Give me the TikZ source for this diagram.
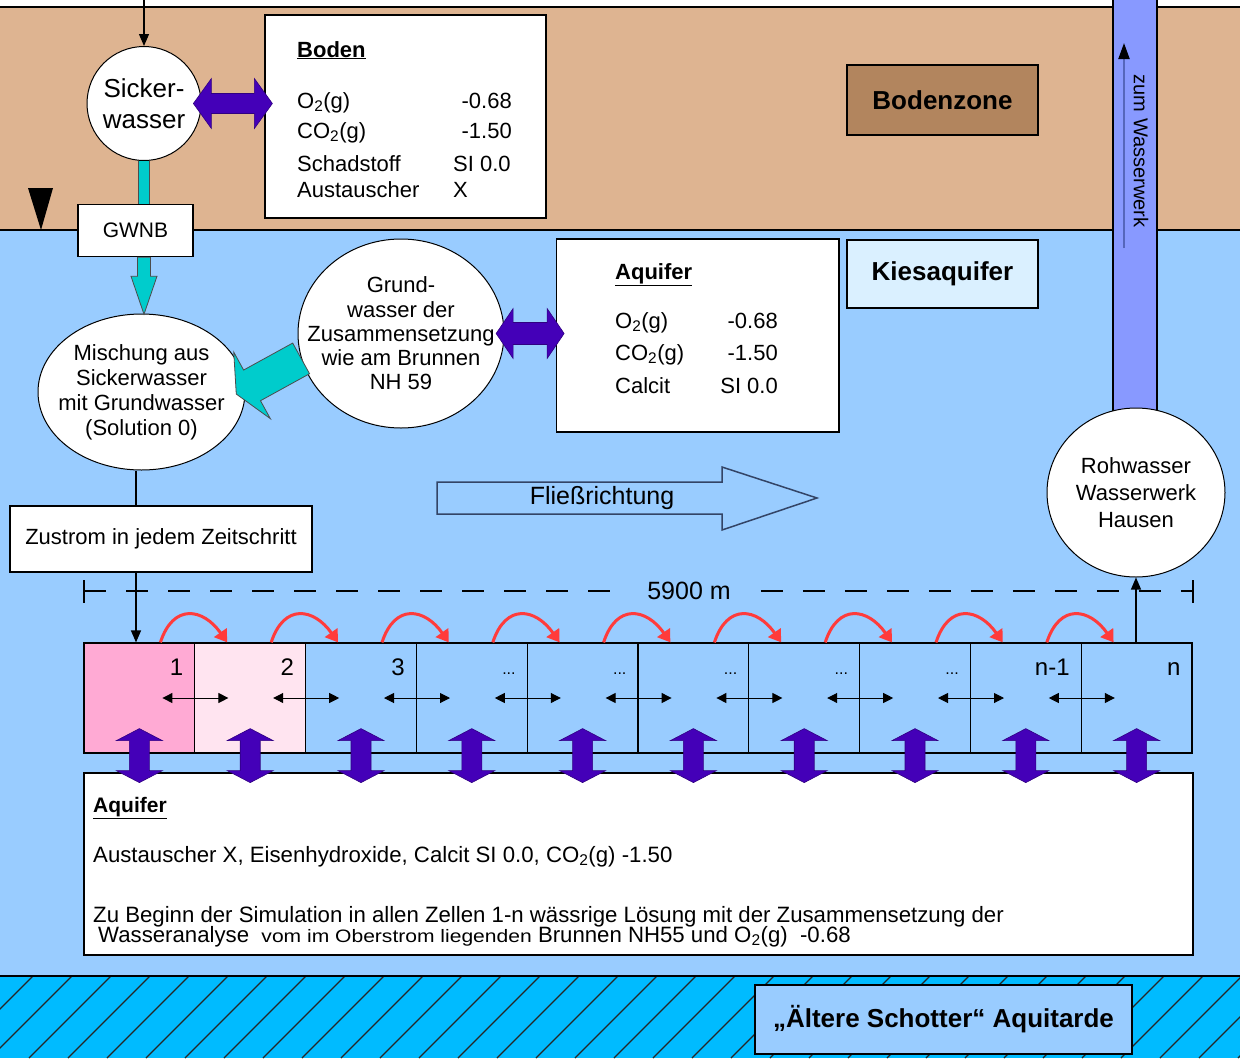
\documentclass[tikz,border=0pt]{standalone}
\usepackage{fontspec}
\setmainfont{Liberation Sans}
\usetikzlibrary{arrows.meta,calc,shapes.geometric}
\definecolor{soil}{HTML}{DEB491}
\definecolor{soilbox}{HTML}{B2855E}
\definecolor{aq}{HTML}{99CCFF}
\definecolor{aqlight}{HTML}{DAF0FF}
\definecolor{aquitard}{HTML}{00BBFF}
\definecolor{pipe}{HTML}{8899FF}
\definecolor{pipeline}{HTML}{5566BB}
\definecolor{purp}{HTML}{4400B8}
\definecolor{cyanA}{HTML}{00CCCC}
\definecolor{pinkA}{HTML}{FFAAD4}
\definecolor{pinkB}{HTML}{FFE4F0}
\definecolor{redA}{HTML}{FF3B3B}
\definecolor{flowline}{HTML}{334466}
\newcommand{\fsz}[1]{\fontsize{#1}{#1}\selectfont}
\tikzset{
  pics/dbl/.style n args={4}{code={
    \path[pic actions] (-#1/2,0) -- (-#1/2+#4,#2) -- (-#1/2+#4,#3) -- (#1/2-#4,#3) -- (#1/2-#4,#2) -- (#1/2,0)
      -- (#1/2-#4,-#2) -- (#1/2-#4,-#3) -- (-#1/2+#4,-#3) -- (-#1/2+#4,-#2) -- cycle;}},
  pics/sarr/.style n args={4}{code={
    \path[pic actions] (0,#3) -- (#1-#4,#3) -- (#1-#4,#2) -- (#1,0) -- (#1-#4,-#2) -- (#1-#4,-#3) -- (0,-#3) -- cycle;}},
}
\begin{document}
\begin{tikzpicture}[x=1pt,y=1pt,
  box/.style={draw=black, line width=1.5pt, fill=white, inner sep=0pt},
  roundnode/.style={ellipse, draw=black, line width=1pt, fill=white, inner sep=0pt},
  roundtxt/.style={align=center, inner sep=0pt},
  rowtxt/.style={anchor=base west, font=\fsz{22}, inner sep=0pt},
  rowval/.style={anchor=base east, font=\fsz{22}, inner sep=0pt},
  thinarrow/.style={line width=1.2pt, -{Triangle[length=12pt,width=10pt]}},
  cellbox/.style={draw=black, line width=1.2pt, minimum width=110.8pt, minimum height=110pt, inner sep=0pt},
  redarc/.style={redA, line width=3pt, -{Triangle[length=12pt,width=15pt]}},
  smalldbl/.style={line width=1pt, {Triangle[length=10pt,width=10pt]}-{Triangle[length=10pt,width=10pt]}},
  purparrow/.style={fill=purp, draw=purp!70!black, line width=0.6pt},
  cyanarrow/.style={fill=cyanA, draw=black!70, line width=0.8pt},
]
\useasboundingbox (0,0) rectangle (1240,-1058);
% ---------- layers ----------
\fill[white] (0,0) rectangle (1240,-1058);
\fill[soil] (0,-7) rectangle (1240,-230);
\fill[aq] (0,-230) rectangle (1240,-976);
\fill[aquitard] (0,-976) rectangle (1240,-1058);
\begin{scope}
  \clip (0,-976) rectangle (1240,-1058);
  \foreach \k in {-1,...,34} \draw[line width=1.3pt, black!85] ({33+39*\k-82},-1058) -- ({33+39*\k},-976);
\end{scope}
\draw[line width=1.5pt] (0,-7) -- (1240,-7);
\draw[line width=2pt] (0,-230) -- (1240,-230);
\draw[line width=1.5pt] (0,-976) -- (1240,-976);
% water table
\fill (28,-188) -- (53,-188) -- (41,-230) -- cycle;
% ---------- pipe ----------
\fill[pipe] (1113,0) rectangle (1157,-412);
\draw[line width=1.5pt] (1113,0) -- (1113,-412) (1157,0) -- (1157,-412);
\coordinate (pipebot) at (1124,-248);
\coordinate (pipetop) at (1124,-43);
\draw[pipeline, line width=2pt, -{Triangle[length=16pt,width=11pt,color=black]}] (pipebot) -- (pipetop);
\node[rotate=-90, font=\fsz{20}, inner sep=0pt] (zw) at (1141,-151) {zum Wasserwerk};
% ---------- soil zone ----------
\node[draw=black, line width=1.5pt, fill=soilbox, minimum width=191pt, minimum height=70pt, font=\bfseries\fsz{26}] (bz) at (942.5,-100) {Bodenzone};
\node[draw=black, line width=1.5pt, fill=aqlight, minimum width=191pt, minimum height=68pt, font=\bfseries\fsz{26}] (kies) at (942.5,-274) {Kiesaquifer};
\node[circle, draw=black, line width=1pt, fill=white, minimum size=114pt, inner sep=0pt] (sick) at (144,-103.5) {};
\node[roundtxt, font=\fontsize{26}{31}\selectfont] (sicktxt) at (sick.center) {Sicker-\\wasser};
\node[box, minimum width=281pt, minimum height=203pt] (boden) at (405.5,-116.5) {};
\node[rowtxt, font=\bfseries\fsz{22}] (bt) at (297,-57) {\underline{Boden}};
\node[rowtxt] (b1) at (297,-108) {O\textsubscript{2}(g)};
\node[rowtxt] (b2) at (297,-138) {CO\textsubscript{2}(g)};
\node[rowtxt] (b3) at (297,-171) {Schadstoff};
\node[rowtxt] (b4) at (297,-197) {Austauscher};
\node[rowval] (bv1) at (512,-108) {-0.68};
\node[rowval] (bv2) at (512,-138) {-1.50};
\node[rowtxt] (bv3) at (453,-171) {SI 0.0};
\node[rowtxt] (bv4) at (453,-197) {X};
\node[box, minimum width=115pt, minimum height=52pt, font=\fsz{21}] (gwnb) at (135.5,-230.5) {GWNB};
% ---------- aquifer upper part ----------
\node[roundnode, minimum width=207pt, minimum height=156pt] (misch) at (141.5,-392) {};
\node[roundtxt, font=\fontsize{22}{25}\selectfont] (mischtxt) at (misch.center) {Mischung aus\\Sickerwasser\\mit Grundwasser\\(Solution 0)};
\node[roundnode, minimum width=206pt, minimum height=189pt] (grund) at (401,-333.5) {};
\node[roundtxt, font=\fontsize{22}{24.3}\selectfont] (grundtxt) at (grund.center) {Grund-\\wasser der\\Zusammensetzung\\wie am Brunnen\\NH 59};
\node[box, minimum width=282.5pt, minimum height=193pt] (aqbox) at (697.75,-335.5) {};
\node[rowtxt, font=\bfseries\fsz{22}] (at) at (615,-279) {\underline{Aquifer}};
\node[rowtxt] (a1) at (615,-328) {O\textsubscript{2}(g)};
\node[rowtxt] (a2) at (615,-360) {CO\textsubscript{2}(g)};
\node[rowtxt] (a3) at (615,-393) {Calcit};
\node[rowval] (av1) at (778,-328) {-0.68};
\node[rowval] (av2) at (778,-360) {-1.50};
\node[rowval] (av3) at (778,-393) {SI 0.0};
% flow direction arrow
\draw[flowline, line width=1.5pt, fill=aq] (437,-482) -- (722,-482) -- (722,-467) -- (817,-498) -- (722,-530) -- (722,-514) -- (437,-514) -- cycle;
\node[font=\fsz{25}, inner sep=0pt] (flow) at (602,-498) {Fließrichtung};
\node[roundnode, minimum width=178pt, minimum height=169pt] (roh) at (1136,-492.5) {};
\node[roundtxt, font=\fontsize{22}{27}\selectfont] (rohtxt) at (roh.center) {Rohwasser\\Wasserwerk\\Hausen};
\node[box, minimum width=302pt, minimum height=66pt, font=\fsz{22}] (zu) at (161,-539) {Zustrom in jedem Zeitschritt};
% ---------- connectors upper ----------
\coordinate (topin) at (144,0);
\draw[thinarrow] (topin) -- (sick.north);
\draw[line width=0.8pt, draw=black!70, double=cyanA, double distance=10pt] (sick.south) -- (sick.south |- gwnb.north);
\pic[cyanarrow, rotate=-90] at (sick.south |- gwnb.south) {sarr={57}{13}{6.5}{38}};
\pic[cyanarrow, rotate=208.8] at (grund.194) {sarr={74}{38}{17.5}{18}};
\pic[purparrow] at ($(sick.east)!0.5!(sick.east -| boden.west)$) {dbl={79}{25}{10}{18}};
\pic[purparrow] at ($(grund.east)!0.5!(grund.east -| aqbox.west)$) {dbl={68}{25}{11}{17}};
\coordinate (feedx) at (136,0);
\draw[line width=1.2pt] (misch.south -| feedx) -- (zu.north -| feedx);
% ---------- cells ----------
\foreach \i/\f in {1/pinkA,2/pinkB,3/aq,4/aq,5/aq,6/aq,7/aq,8/aq,9/aq,10/aq}
  \node[cellbox, fill=\f] (c\i) at ({84+110.8*(\i-0.5)},-698) {};
\foreach \i/\l in {1/1,2/2,3/3,9/n-1,10/n}
  \node[anchor=base east, font=\fsz{24}, inner sep=0pt] (l\i) at ($(c\i.north east)+(-12,-33)$) {\l};
\foreach \i in {4,...,8}
  \node[anchor=base east, font=\fsz{16}, inner sep=0pt] (l\i) at ($(c\i.north east)+(-12,-32)$) {...};
\foreach \i [evaluate=\i as \j using int(\i+1)] in {1,...,9}
  \draw[redarc] ($(c\i.north east)+(-35,0)$) to[out=72,in=125,looseness=1.6] ($(c\j.north west)+(33,0)$);
\foreach \i in {1,...,9}
  \draw[smalldbl] ($(c\i.east)+(-33,0)$) -- ($(c\i.east)+(33,0)$);
\draw[thinarrow] (zu.south -| feedx) -- (c1.north -| feedx);
\draw[thinarrow] (c10.north -| roh.south) -- (roh.south);
% dimension line
\node[fill=aq, font=\fsz{25}, inner xsep=30pt, inner ysep=2pt] (dim) at (689,-591) {5900 m};
\coordinate (dimL) at (84,-591);
\coordinate (dimR) at (1193,-591);
\draw[line width=1.5pt] ($(dimL)+(0,11)$) -- ($(dimL)+(0,-12)$);
\draw[line width=1.5pt] ($(dimR)+(0,11)$) -- ($(dimR)+(0,-12)$);
\draw[line width=1.5pt, dash pattern=on 22pt off 20pt] (dimL) -- (dim.west);
\draw[line width=1.5pt, dash pattern=on 22pt off 20pt] (dim.east) -- (dimR);
% ---------- bottom aquifer box ----------
\node[box, minimum width=1109pt, minimum height=182pt] (aqbot) at (638.5,-864) {};
\foreach \i in {1,...,10}
  \pic[purparrow, rotate=90] at ($(c\i.south)+(0,-2)$) {dbl={54}{23}{10}{12}};
\node[anchor=base west, inner sep=0pt, font=\bfseries\fsz{21}] (bt2) at (93,-812) {\underline{Aquifer}};
\node[anchor=base west, inner sep=0pt, font=\fsz{22.2}] (bl2) at (93,-862) {Austauscher X, Eisenhydroxide, Calcit SI 0.0, CO\textsubscript{2}(g) -1.50};
\node[anchor=base west, inner sep=0pt, font=\fsz{22.2}] (bl3) at (93,-922) {Zu Beginn der Simulation in allen Zellen 1-n wässrige Lösung mit der Zusammensetzung der};
\node[anchor=base west, inner sep=0pt, font=\fsz{22.2}] (bl4) at (98,-942) {Wasseranalyse\ \ \scalebox{1.17}[1]{\fsz{18}vom im Oberstrom liegenden} Brunnen NH55 und O\textsubscript{2}(g)\ \ -0.68};
% ---------- aquitard ----------
\node[draw=black, line width=1.5pt, fill=aq, minimum width=377pt, minimum height=69pt, font=\bfseries\fsz{26}] (atd) at (943.5,-1019.5) {„Ältere Schotter“ Aquitarde};
\end{tikzpicture}
\end{document}
